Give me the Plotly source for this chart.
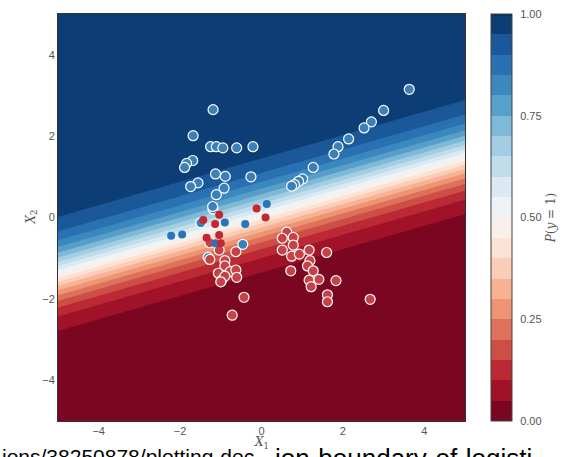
import numpy as np
import plotly.graph_objects as go

# ---- data ----
# test points with white edge, class 1 (blue)
blue_x = [3.63, -1.19, 3.00, 2.70, 2.52, -1.68, 2.14, 1.88, 1.78, -1.25, -1.11, -0.95, -0.61, -0.21,
          -1.69, -1.84, -1.89, 1.27, -1.13, -0.89, -0.26, 1.01, 0.91, 0.81, 0.74, -1.56, -1.74, -0.92,
          -1.11, -1.19, -1.20, -1.49, -0.46, -1.31]
blue_y = [3.15, 2.65, 2.63, 2.35, 2.20, 2.01, 1.93, 1.74, 1.56, 1.74, 1.74, 1.71, 1.71, 1.74,
          1.40, 1.33, 1.23, 1.23, 1.07, 1.01, 1.00, 0.95, 0.89, 0.81, 0.77, 0.85, 0.76, 0.72,
          0.56, 0.21, 0.27, -0.13, -0.66, -0.98]
# test points with white edge, class 0 (red)
red_x = [0.62, 0.51, 0.78, 0.78, 0.51, 0.74, 0.93, 1.17, 1.60, 1.19, 1.13, 1.27, 0.72, 1.17, 1.41,
         1.22, 1.83, 1.62, 1.62, 2.67, -0.43, -0.72, -1.27, -1.04, -0.63, -1.27, -0.90, -0.90,
         -1.06, -0.98, -0.77, -0.63, -0.61, -0.90, -1.00]
red_y = [-0.36, -0.51, -0.49, -0.68, -0.80, -0.95, -0.90, -0.80, -0.86, -1.06, -1.19, -1.31, -1.31,
         -1.54, -1.52, -1.70, -1.55, -1.90, -2.07, -2.01, -1.96, -2.40, -0.62, -0.80, -0.84, -1.03,
         -1.06, -1.19, -1.37, -1.54, -1.33, -1.29, -1.47, -1.44, -1.58]
# solid points without edge
solid_blue_x = [-2.22, -1.95, -0.90, -0.40, 0.13, -1.13]
solid_blue_y = [-0.45, -0.42, -0.12, -0.16, 0.33, -0.63]
solid_red_x = [-1.43, -1.04, -1.14, -0.12, 0.10, -1.35, -1.04, -1.00]
solid_red_y = [-0.06, 0.07, -0.16, 0.22, 0.00, -0.50, -0.43, -0.63]

# fitted logistic model coefficients (estimated from the decision surface)
W1, W2, B = -0.603, 2.1, -0.105

x_ticks = [-4, -2, 0, 2, 4]
y_ticks = [-4, -2, 0, 2, 4]
cbar_ticks = [0, 0.25, 0.5, 0.75, 1.0]

RDBU = ["#67001f", "#b2182b", "#d6604d", "#f4a582", "#fddbc7", "#f7f7f7",
        "#d1e5f0", "#92c5de", "#4393c3", "#2166ac", "#053061"]
colorscale = [[i / 10, c] for i, c in enumerate(RDBU)]

grid = np.linspace(-5, 5, 301)
xx, yy = np.meshgrid(grid, grid)
probs = 1.0 / (1.0 + np.exp(-(B + W1 * xx + W2 * yy)))

fig = go.Figure()
fig.add_trace(go.Contour(
    x=grid, y=grid, z=probs, zmin=0, zmax=1, autocontour=False,
    contours=dict(start=0, end=1, size=0.05, coloring="fill", showlines=False),
    line=dict(width=0), colorscale=colorscale, hoverinfo="skip",
    colorbar=dict(
        x=(491 - 58) / 407, xanchor="left", xpad=0, ypad=0, y=0.5, yanchor="middle",
        len=1, lenmode="fraction", thickness=21,
        outlinewidth=1, outlinecolor="#444",
        tickvals=cbar_ticks, ticktext=[f"{v:.2f}" for v in cbar_ticks],
        ticks="outside", ticklen=6, tickcolor="rgba(0,0,0,0)",
        tickfont=dict(family="Liberation Sans, Arial", size=11, color="#555"),
        title=dict(text="<i>P</i>(<i>y</i> = 1)", side="right",
                   font=dict(family="DejaVu Serif", size=12, color="#555")),
    ),
))

edge = dict(color="white", width=1.2)
fig.add_trace(go.Scatter(x=blue_x, y=blue_y, mode="markers",
                         marker=dict(size=10, color="rgb(60,128,186)", line=edge)))
fig.add_trace(go.Scatter(x=red_x, y=red_y, mode="markers",
                         marker=dict(size=10, color="rgb(198,66,70)", line=edge)))
fig.add_trace(go.Scatter(x=solid_blue_x, y=solid_blue_y, mode="markers",
                         marker=dict(size=8, color="rgb(40,118,185)", line=dict(width=0))))
fig.add_trace(go.Scatter(x=solid_red_x, y=solid_red_y, mode="markers",
                         marker=dict(size=8, color="rgb(195,40,50)", line=dict(width=0))))

axis_common = dict(range=[-5, 5], showgrid=False, zeroline=False, ticks="",
                   showline=True, mirror=True, linecolor="#333", linewidth=1,
                   tickfont=dict(family="Liberation Sans, Arial", size=11, color="#555"))
fig.update_xaxes(tickvals=x_ticks, ticktext=[str(v).replace("-", "\u2212") for v in x_ticks],
                 **axis_common)
fig.update_yaxes(tickvals=y_ticks, ticktext=[str(v).replace("-", "\u2212") for v in y_ticks],
                 **axis_common)

fig.update_layout(
    width=563, height=457, margin=dict(l=58, r=98, t=14, b=36, autoexpand=False),
    paper_bgcolor="white", plot_bgcolor="white", showlegend=False,
    annotations=[
        dict(text="<i>X</i><sub>2</sub>", xref="paper", yref="paper", x=(21 - 58) / 407, y=0.5,
             textangle=-90, showarrow=False, font=dict(family="DejaVu Serif", size=12, color="#555")),
        dict(text="ions/38250878/plotting-dec", xref="paper", yref="paper",
             x=(0 - 58) / 407, y=(421 - 442.5) / 407, xanchor="left", yanchor="top",
             showarrow=False, font=dict(family="Liberation Sans, Arial", size=21, color="black")),
        dict(text="ion-boundary-of-logisti", xref="paper", yref="paper",
             x=(273 - 58) / 407, y=(421 - 440.5) / 407, xanchor="left", yanchor="top",
             showarrow=False, font=dict(family="Liberation Sans, Arial", size=26, color="black")),
        dict(text="<i>X</i><sub>1</sub>", xref="paper", yref="paper", x=(261 - 58) / 407,
             y=(421 - 443) / 407, yanchor="middle",
             showarrow=False, font=dict(family="DejaVu Serif", size=12, color="#555")),
    ],
)

fig.write_html("out.html", config={"displayModeBar": False},
               post_script="document.body.style.margin='0';")
